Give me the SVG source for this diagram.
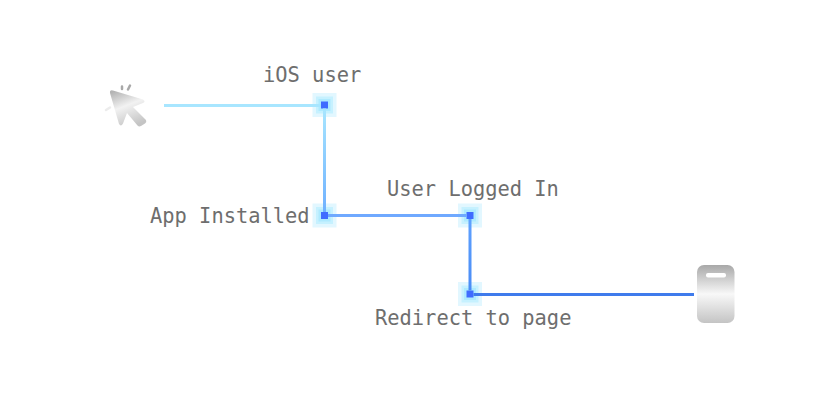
<svg xmlns="http://www.w3.org/2000/svg" width="828" height="417" viewBox="0 0 828 417">
<style>
.label{font-family:"DejaVu Sans Mono",monospace;font-size:20.4px;fill:#6e6e6e}
.halo1{fill:#e2f7ff}
.halo2{fill:#c6f1ff}
.halo3{fill:#aeeaff}
.core{fill:#3f6cff}
.wire{fill:none;stroke-width:3}
</style>
<defs>
<linearGradient id="v1" x1="0" y1="0" x2="0" y2="1"><stop offset="0" stop-color="#a8e6ff"/><stop offset="1" stop-color="#6fb1ff"/></linearGradient>
<linearGradient id="v2" x1="0" y1="0" x2="0" y2="1"><stop offset="0" stop-color="#5ea1ff"/><stop offset="1" stop-color="#4a8cf5"/></linearGradient>
<linearGradient id="srv" x1="0" y1="0" x2="0" y2="1"><stop offset="0" stop-color="#a8a8a8"/><stop offset="0.5" stop-color="#f8f8f8"/><stop offset="1" stop-color="#c4c4c4"/></linearGradient>
<linearGradient id="cur" x1="0.2" y1="0" x2="0.6" y2="1"><stop offset="0" stop-color="#b4b4b4"/><stop offset="0.45" stop-color="#f2f2f2"/><stop offset="1" stop-color="#c4c4c4"/></linearGradient>
<g id="dot">
<rect class="halo1" x="-12" y="-12" width="24" height="24"/>
<rect class="halo2" x="-8.500" y="-8.500" width="17" height="17"/>
<rect class="halo3" x="-6" y="-6" width="12" height="12"/>
<rect class="core" x="-3.500" y="-3.500" width="7" height="7"/>
</g>
</defs>
<g id="source">
<path d="M110 93Q109.500 89.500 113 90.500L143 99.500Q146 101.500 143 103L133 107L146 120Q147 122 145 123.500L141 126Q139 127 137.500 125.500L127 113L123 123.500Q121 127 119 124Z" fill="url(#cur)"/>
<path d="M122 86.500v2.500M130 85.500l-2 4" stroke="#a8a8a8" stroke-width="2.500" stroke-linecap="round" fill="none"/>
<path d="M106 110l4-2.500" stroke="#ececec" stroke-width="2.500" stroke-linecap="round" fill="none"/>
</g>
<g id="ios-user"><use href="#dot" x="324.500" y="105"/><text class="label" x="263" y="82">iOS user</text></g>
<g id="app-installed"><use href="#dot" x="324.500" y="215.500"/><text class="label" x="150" y="223">App Installed</text></g>
<g id="user-logged-in"><use href="#dot" x="470" y="215.500"/><text class="label" x="387" y="196">User Logged In</text></g>
<g id="redirect"><use href="#dot" x="470" y="294"/><text class="label" x="375" y="325">Redirect to page</text></g>
<g id="server">
<rect x="697" y="265" width="37.500" height="58" rx="7" fill="url(#srv)"/>
<rect x="706" y="273" width="20" height="4.500" rx="2" fill="#fff"/>
</g>
<g id="connectors">
<path class="wire" stroke="#a8e6ff" d="M164 105.500H321"/>
<rect x="323" y="108.500" width="3" height="103.500" fill="url(#v1)"/>
<path class="wire" stroke="#6fa9ff" d="M328 215.500H466.500"/>
<rect x="468.500" y="219" width="3" height="71.500" fill="url(#v2)"/>
<path class="wire" stroke="#3f7bec" d="M473.500 294.500H694"/>
</g>
</svg>
